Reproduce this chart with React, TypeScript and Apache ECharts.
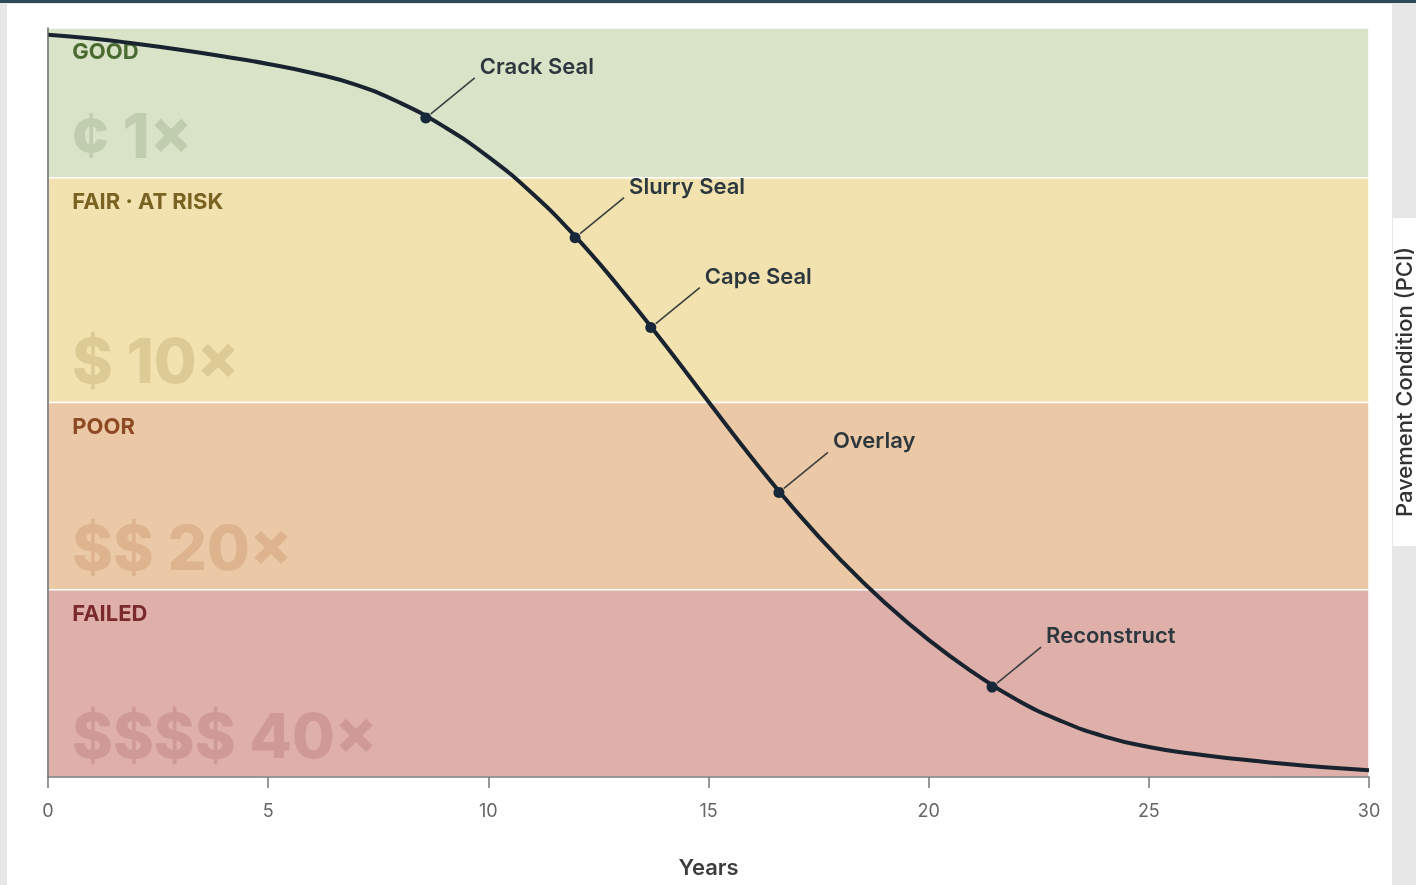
import React, { useEffect, useRef } from "react";
import * as echarts from "echarts";

// ---- data ----
const years = [0, 1, 2, 3, 4, 5, 6, 7, 8, 9, 10, 11, 12, 13, 14, 15, 16, 17, 18, 19, 20, 21, 22, 23, 24, 25, 26, 27, 28, 29, 30];
const pci = [99.1, 98.6, 97.9, 97.1, 96.2, 95.2, 94.0, 92.4, 90.0, 86.8, 82.8, 77.9, 72.0, 65.2, 57.8, 50.1, 42.5, 35.4, 29.0, 23.3, 18.3, 14.0, 10.3, 7.5, 5.4, 4.0, 3.1, 2.4, 1.8, 1.3, 0.9];

const treatments = ["Crack Seal", "Slurry Seal", "Cape Seal", "Overlay", "Reconstruct"];
const treatmentYears = [8.58, 11.97, 13.69, 16.6, 21.44];
const treatmentPci = [88, 72, 60, 38, 12];

const bandNames = ["GOOD", "FAIR · AT RISK", "POOR", "FAILED"];
const bandCosts = ["¢ 1×", "$ 10×", "$$ 20×", "$$$$ 40×"];
const bandTop = [100, 80, 50, 25];
const bandBottom = [80, 50, 25, 0];

const xTicks = { min: 0, max: 30, interval: 5 };

// ---- styles ----
const bandFill = ["#d9e3c8", "#f2e2b0", "#ebc9a6", "#dfafaa"];
const bandNameColor = ["#4b6a31", "#7a6222", "#8e4a24", "#7a2a2d"];
const bandCostColor = ["#c1cdaf", "#ddcb95", "#deb48f", "#cf9996"];
const FONT = "Inter, 'Noto Sans', sans-serif";

export default function App() {
  const ref = useRef<HTMLDivElement>(null);

  useEffect(() => {
    if (!ref.current) return;
    const chart = echarts.init(ref.current, undefined, { renderer: "svg" });

    const bandsNameArea = bandNames.map((n, i) => [
      {
        name: n,
        xAxis: xTicks.min,
        yAxis: bandTop[i],
        itemStyle: { color: bandFill[i], borderColor: "#ffffff", borderWidth: 1.5 },
        label: { color: bandNameColor[i] },
      },
      { xAxis: xTicks.max, yAxis: bandBottom[i] },
    ]);

    const bandsCostArea = bandCosts.map((n, i) => [
      {
        name: n,
        xAxis: xTicks.min,
        yAxis: bandTop[i],
        itemStyle: { color: "rgba(0,0,0,0)" },
        label: { color: bandCostColor[i] },
      },
      { xAxis: xTicks.max, yAxis: bandBottom[i] },
    ]);

    const option: any = {
      animation: false,
      graphic: {
        elements: [
          { type: "rect", z: -5, silent: true, shape: { x: 0, y: 0, width: 1416, height: 885 }, style: { fill: "#e7e7e7" } },
          { type: "rect", z: -4, silent: true, shape: { x: 7, y: 4, width: 1385, height: 881 }, style: { fill: "#ffffff" } },
          { type: "rect", z: -4, silent: true, shape: { x: 0, y: 0, width: 1416, height: 3 }, style: { fill: "#2e4a58" } },
          { type: "rect", z: 10, silent: true, shape: { x: 1393, y: 218, width: 23, height: 328 }, style: { fill: "#ffffff" } },
          {
            type: "text",
            z: 11,
            silent: true,
            x: 1404,
            y: 382,
            rotation: Math.PI / 2,
            style: {
              text: "Pavement Condition (PCI)",
              fontSize: 22,
              lineHeight: 22,
              fontWeight: 500,
              fontFamily: FONT,
              fill: "#333333",
              align: "center",
              verticalAlign: "middle",
            },
          },
        ],
      },
      grid: { left: 48, right: 47, top: 28, bottom: 108, containLabel: false },
      xAxis: {
        type: "value",
        min: xTicks.min,
        max: xTicks.max,
        interval: xTicks.interval,
        z: 5,
        name: "Years",
        nameLocation: "middle",
        nameGap: 79,
        nameTextStyle: { fontSize: 22, fontWeight: 600, color: "#3d3d3d", fontFamily: FONT },
        axisLine: { show: true, lineStyle: { color: "#777777", width: 1.5 } },
        axisTick: { show: true, length: 11, lineStyle: { color: "#777777", width: 1.5 } },
        axisLabel: { fontSize: 18, color: "#666666", margin: 24, fontFamily: FONT },
        splitLine: { show: false },
      },
      yAxis: {
        type: "value",
        min: 0,
        max: 100,
        z: 5,
        axisLine: { show: true, lineStyle: { color: "#666666", width: 1.5 } },
        axisTick: { show: false },
        axisLabel: { show: false },
        splitLine: { show: false },
      },
      series: [
        {
          type: "line",
          data: [],
          z: 1,
          silent: true,
          markArea: {
            silent: true,
            label: {
              show: true,
              position: "insideTopLeft",
              distance: 0,
              offset: [25, 13],
              fontSize: 22,
              fontWeight: 700,
              fontFamily: FONT,
            },
            data: bandsNameArea,
          },
        },
        {
          type: "line",
          data: [],
          z: 1,
          silent: true,
          markArea: {
            silent: true,
            label: {
              show: true,
              position: "insideBottomLeft",
              distance: 0,
              offset: [24, -11],
              fontSize: 62,
              fontWeight: 800,
              fontFamily: FONT,
            },
            data: bandsCostArea,
          },
        },
        {
          type: "line",
          data: years.map((y, i) => [y, pci[i]]),
          smooth: 0.5,
          showSymbol: false,
          z: 3,
          silent: true,
          lineStyle: { color: "#18232f", width: 4 },
        },
        {
          type: "custom",
          z: 4,
          silent: true,
          data: treatmentYears.map((y, i) => [y, treatmentPci[i]]),
          renderItem: (params: any, api: any) => {
            const p = api.coord([api.value(0), api.value(1)]);
            const label = treatments[params.dataIndex];
            return {
              type: "group",
              children: [
                {
                  type: "line",
                  shape: { x1: p[0] + 5, y1: p[1] - 4, x2: p[0] + 49, y2: p[1] - 40 },
                  style: { stroke: "#3b3f3e", lineWidth: 1.6 },
                },
                {
                  type: "circle",
                  shape: { cx: p[0], cy: p[1], r: 5.5 },
                  style: { fill: "#17283a" },
                },
                {
                  type: "text",
                  x: p[0] + 54,
                  y: p[1] - 52,
                  style: {
                    text: label,
                    fontSize: 22,
                    fontWeight: 600,
                    fontFamily: FONT,
                    fill: "#2c383d",
                    align: "left",
                    verticalAlign: "middle",
                  },
                },
              ],
            };
          },
        },
      ],
    };

    chart.setOption(option);
    return () => chart.dispose();
  }, []);

  return (
    <div
      ref={ref}
      style={{ position: "fixed", left: 0, top: 0, width: 1416, height: 885 }}
    />
  );
}
